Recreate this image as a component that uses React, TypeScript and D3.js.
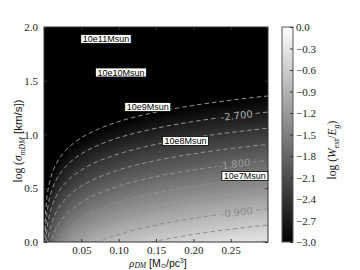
import React, { useEffect, useRef } from "react";
import * as d3 from "d3";

// axes
const rhoDomain = [0, 0.3];
const logSigmaDomain = [0, 2];
const colorDomain = [-3, 0];
const rhoTicks = [0.05, 0.1, 0.15, 0.2, 0.25];
const logSigmaTicks = [0.0, 0.5, 1.0, 1.5, 2.0];
const colorTicks = [0.0, -0.3, -0.6, -0.9, -1.2, -1.5, -1.8, -2.1, -2.4, -2.7, -3.0];

// field: log(W_ext/E_g) = log(rho) - 2 log(sigma) + offset
const fieldOffset = 0.24;
const sigmaExponent = 2;

// contours
const contourLevels = [-3.0, -2.7, -2.4, -2.1, -1.8, -1.5, -1.2, -0.9, -0.6, -0.3];
const labelledLevels = [-2.7, -1.8, -0.9];
const labelRho = [0.258, 0.255, 0.258];

// halo mass annotations
const massLabels = ["10e11Msun", "10e10Msun", "10e9Msun", "10e8Msun", "10e7Msun"];
const massRho = [0.083, 0.103, 0.139, 0.1895, 0.269];
const massLogSigma = [1.888, 1.577, 1.256, 0.94, 0.614];

const serif = "'Liberation Serif', 'DejaVu Serif', serif";
const sans = "'Liberation Sans', Arial, sans-serif";

function App() {
    const ref = useRef<SVGSVGElement>(null);

    useEffect(() => {
        document.body.style.margin = "0";
        drawChart();
    }, []);

    const drawChart = () => {
        const svg = d3.select(ref.current);
        svg.selectAll("*").remove();

        const m = { left: 44, right: 268, top: 27, bottom: 242 };
        const x = d3.scaleLinear().domain(rhoDomain).range([m.left, m.right]);
        const y = d3.scaleLinear().domain(logSigmaDomain).range([m.bottom, m.top]);
        const gray = d3.scaleLinear<string>().domain(colorDomain).range(["#000", "#fff"]).clamp(true);
        const lineColor = d3.scaleLinear<string>().domain(colorDomain).range(["#a8a8a8", "#7c7c7c"]);
        const labelColor = d3.scaleLinear<string>().domain(colorDomain).range(["#b4b4b4", "#777"]);
        const field = (rho: number, ls: number) =>
            Math.log10(Math.max(rho, 1e-4)) - sigmaExponent * ls + fieldOffset;

        // sample grid (1px) a bit larger than the plot
        const pad = 2;
        const gx0 = m.left - pad, gy0 = m.top - pad;
        const nx = m.right - m.left + 2 * pad + 1;
        const ny = m.bottom - m.top + 2 * pad + 1;
        const values: number[] = new Array(nx * ny);
        for (let j = 0; j < ny; j++) {
            for (let i = 0; i < nx; i++) {
                values[j * nx + i] = field(x.invert(gx0 + i), y.invert(gy0 + j));
            }
        }
        const path = d3.geoPath(d3.geoIdentity().translate([gx0 - 0.5, gy0 - 0.5]) as any);

        const defs = svg.append("defs");
        defs.append("clipPath").attr("id", "plotClip")
            .append("rect")
            .attr("x", m.left).attr("y", m.top)
            .attr("width", m.right - m.left).attr("height", m.bottom - m.top);

        const plot = svg.append("g").attr("clip-path", "url(#plotClip)");
        plot.append("rect")
            .attr("x", m.left).attr("y", m.top)
            .attr("width", m.right - m.left).attr("height", m.bottom - m.top)
            .attr("fill", "#000");

        // filled image
        const fillLevels = d3.range(-3, 0.0001, 0.025);
        const fills = d3.contours().size([nx, ny]).thresholds(fillLevels)(values);
        plot.append("g")
            .selectAll("path")
            .data(fills)
            .join("path")
            .attr("d", d => path(d as any))
            .attr("fill", d => gray(d.value + 0.0125));

        // contour labels first (needed to size the mask)
        const mask = defs.append("mask").attr("id", "labelMask")
            .attr("maskUnits", "userSpaceOnUse")
            .attr("x", 0).attr("y", 0).attr("width", 360).attr("height", 270);
        mask.append("rect").attr("width", 360).attr("height", 270).attr("fill", "#fff");

        const labelGroup = svg.append("g");
        labelledLevels.forEach((lev, k) => {
            const rho = labelRho[k];
            const ls = (Math.log10(rho) + fieldOffset - lev) / sigmaExponent;
            const dr = 0.005;
            const ls2 = (Math.log10(rho + dr) + fieldOffset - lev) / sigmaExponent;
            const ang = Math.atan2(y(ls2) - y(ls), x(rho + dr) - x(rho)) * 180 / Math.PI;
            const px = x(rho), py = y(ls);
            const t = labelGroup.append("text")
                .attr("transform", `translate(${px},${py}) rotate(${ang})`)
                .attr("text-anchor", "middle")
                .attr("dy", "0.35em")
                .attr("font-family", "'DejaVu Sans', sans-serif")
                .attr("font-size", 10)
                .attr("fill", labelColor(lev))
                .text(lev.toFixed(3));
            const w = (t.node() as SVGTextElement).getComputedTextLength();
            mask.append("rect")
                .attr("transform", `translate(${px},${py}) rotate(${ang})`)
                .attr("x", -w / 2 - 2).attr("y", -6)
                .attr("width", w + 4).attr("height", 12)
                .attr("fill", "#000");
        });

        // dashed contour lines
        const lines = d3.contours().size([nx, ny]).thresholds(contourLevels)(values);
        plot.append("g")
            .attr("mask", "url(#labelMask)")
            .selectAll("path")
            .data(lines)
            .join("path")
            .attr("d", d => path(d as any))
            .attr("fill", "none")
            .attr("stroke", d => lineColor(d.value))
            .attr("stroke-width", 0.9)
            .attr("stroke-dasharray", "4.5,3");

        labelGroup.raise();

        // frame
        svg.append("rect")
            .attr("x", m.left).attr("y", m.top)
            .attr("width", m.right - m.left).attr("height", m.bottom - m.top)
            .attr("fill", "none").attr("stroke", "#333").attr("stroke-width", 1);

        const styleAxis = (g: any, showLabels: boolean) => {
            g.select(".domain").remove();
            g.selectAll(".tick line").attr("stroke", "#333");
            g.selectAll(".tick text")
                .attr("font-family", serif)
                .attr("font-size", 11)
                .attr("fill", "#222");
            if (!showLabels) g.selectAll(".tick text").remove();
        };

        svg.append("g")
            .attr("transform", `translate(0,${m.bottom})`)
            .call(d3.axisBottom(x).tickValues(rhoTicks).tickSize(-3).tickPadding(4).tickFormat(d3.format(".2f")))
            .call(g => styleAxis(g, true));
        svg.append("g")
            .attr("transform", `translate(0,${m.top})`)
            .call(d3.axisTop(x).tickValues(rhoTicks).tickSize(-3))
            .call(g => styleAxis(g, false));
        svg.append("g")
            .attr("transform", `translate(${m.left},0)`)
            .call(d3.axisLeft(y).tickValues(logSigmaTicks).tickSize(-3).tickPadding(6).tickFormat(d3.format(".1f")))
            .call(g => styleAxis(g, true));
        svg.append("g")
            .attr("transform", `translate(${m.right},0)`)
            .call(d3.axisRight(y).tickValues(logSigmaTicks).tickSize(-3))
            .call(g => styleAxis(g, false));

        // mass annotations
        massLabels.forEach((lab, k) => {
            const g = svg.append("g").attr("transform", `translate(${x(massRho[k])},${y(massLogSigma[k])})`);
            const r = g.append("rect").attr("fill", "#fff").attr("stroke", "#000").attr("stroke-width", 0.8);
            const t = g.append("text")
                .attr("text-anchor", "middle")
                .attr("dy", "0.35em")
                .attr("font-family", sans)
                .attr("font-size", 9)
                .attr("fill", "#000")
                .text(lab);
            const w = (t.node() as SVGTextElement).getComputedTextLength();
            r.attr("x", -w / 2 - 2).attr("y", -4.5).attr("width", w + 4).attr("height", 9);
        });

        // colorbar
        const cb = { x: 282, w: 11 };
        const cy = d3.scaleLinear().domain(colorDomain).range([m.bottom, m.top]);
        const grad = defs.append("linearGradient").attr("id", "cbGrad")
            .attr("x1", 0).attr("y1", 1).attr("x2", 0).attr("y2", 0);
        grad.append("stop").attr("offset", "0%").attr("stop-color", gray(colorDomain[0]));
        grad.append("stop").attr("offset", "100%").attr("stop-color", gray(colorDomain[1]));
        svg.append("rect")
            .attr("x", cb.x).attr("y", m.top)
            .attr("width", cb.w).attr("height", m.bottom - m.top)
            .attr("fill", "url(#cbGrad)")
            .attr("stroke", "#555").attr("stroke-width", 1);
        svg.append("g")
            .attr("transform", `translate(${cb.x + cb.w},0)`)
            .call(d3.axisRight(cy).tickValues(colorTicks).tickSize(-3).tickPadding(3).tickFormat(d3.format(".1f")))
            .call(g => styleAxis(g, true));

        // axis titles
        const yTitle = svg.append("text")
            .attr("transform", "translate(22,141) rotate(-90)")
            .attr("text-anchor", "middle")
            .attr("font-size", 11.5)
            .attr("fill", "#111");
        yTitle.append("tspan").attr("font-family", serif).text("log (");
        yTitle.append("tspan").attr("font-family", serif).attr("font-style", "italic").text("σ");
        yTitle.append("tspan").attr("font-family", serif).attr("font-style", "italic")
            .attr("font-size", 8).attr("dy", 2.5).text("mDM");
        yTitle.append("tspan").attr("font-family", sans).attr("dy", -2.5).text(" [km/s])");

        const xTitle = svg.append("text")
            .attr("transform", "translate(158,266.5)")
            .attr("text-anchor", "middle")
            .attr("font-size", 10.5)
            .attr("fill", "#111");
        xTitle.append("tspan").attr("font-family", serif).attr("font-style", "italic").text("ρ");
        xTitle.append("tspan").attr("font-family", serif).attr("font-style", "italic")
            .attr("font-size", 7.5).attr("dy", 1.5).text("DM");
        xTitle.append("tspan").attr("font-family", sans).attr("dy", -1.5).text(" [M");
        xTitle.append("tspan").attr("font-family", "'DejaVu Sans', sans-serif")
            .attr("font-size", 6.5).attr("dy", 1.5).text("⊙");
        xTitle.append("tspan").attr("font-family", sans).attr("dy", -1.5).text("/pc");
        xTitle.append("tspan").attr("font-family", sans).attr("font-size", 6.5).attr("dy", -3.5).text("3");
        xTitle.append("tspan").attr("font-family", sans).attr("dy", 3.5).text("]");

        const cTitle = svg.append("text")
            .attr("transform", "translate(336,150) rotate(-90)")
            .attr("text-anchor", "middle")
            .attr("font-family", serif)
            .attr("font-size", 11.5)
            .attr("fill", "#111");
        cTitle.append("tspan").text("log (");
        cTitle.append("tspan").attr("font-style", "italic").text("W");
        cTitle.append("tspan").attr("font-size", 8).attr("dy", 2.5).text("ext");
        cTitle.append("tspan").attr("dy", -2.5).text("/");
        cTitle.append("tspan").attr("font-style", "italic").text("E");
        cTitle.append("tspan").attr("font-style", "italic").attr("font-size", 8).attr("dy", 2.5).text("g");
        cTitle.append("tspan").attr("dy", -2.5).text(")");
    };

    return (
        <svg ref={ref} width={360} height={270} style={{ display: "block", background: "#fff" }}></svg>
    );
}

export default App;
